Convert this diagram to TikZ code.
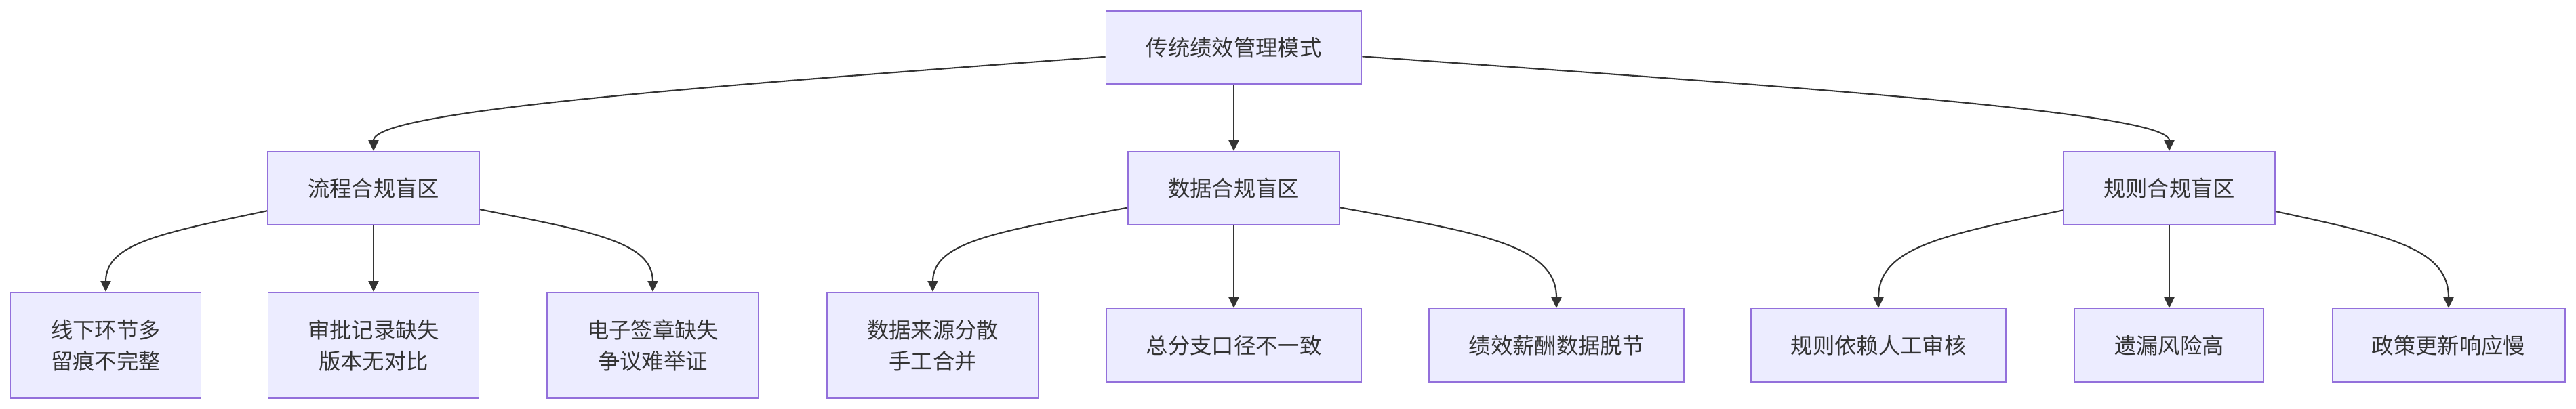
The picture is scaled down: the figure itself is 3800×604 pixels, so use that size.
\documentclass[tikz,border=0pt]{standalone}
\usepackage{fontspec}
\newfontfamily\cjk{Noto Sans CJK SC}
\usepackage{xcolor}
\usetikzlibrary{arrows.meta}
\definecolor{mmfill}{HTML}{ECECFF}
\definecolor{mmborder}{HTML}{9370DB}
\definecolor{mmline}{HTML}{333333}

\begin{document}
\begin{tikzpicture}[x=0.1mm,y=-0.1mm,>={Triangle[length=1.6mm,width=1.5mm]},
    font=\cjk\fontsize{9.2}{13.1}\selectfont,
    box/.style={draw=mmborder,fill=mmfill,line width=0.55pt,text=mmline,inner sep=0pt,minimum height=10.8mm,align=center},
    tall/.style={box,minimum height=15.6mm},
    edge/.style={->,draw=mmline,line width=0.6pt}]
    \fill[white] (0,0) rectangle (3800,604);
    \useasboundingbox (0,0) rectangle (3800,604);
    \node[box,minimum width=37.7mm] (trad) at (1820,70) {传统绩效管理模式};

    % three blind zones
    \node[box,minimum width=31.2mm] (flow) at (551,278) {流程合规盲区};
    \node[box,minimum width=31.2mm] (data) at (1820,278) {数据合规盲区};
    \node[box,minimum width=31.2mm] (rule) at (3200,278) {规则合规盲区};
    \draw[edge] (trad) .. controls (1000,130) and (551,165) .. (flow.north);
    \draw[edge] (trad) -- (data.north);
    \draw[edge] (trad) .. controls (2640,128) and (3200,165) .. (rule.north);

    % process
    \node[tall,minimum width=28.1mm] (offline) at (156,510) {线下环节多\\留痕不完整};
    \node[tall,minimum width=31.1mm] (approve) at (551,510) {审批记录缺失\\版本无对比};
    \node[tall,minimum width=31.2mm] (esign) at (963,510) {电子签章缺失\\争议难举证};
    \draw[edge] (flow) .. controls (240,344) and (156,359) .. (offline.north);
    \draw[edge] (flow) -- (approve.north);
    \draw[edge] (flow) .. controls (873,342) and (963,357) .. (esign.north);

    % data
    \node[tall,minimum width=31.2mm] (source) at (1376,510) {数据来源分散\\手工合并};
    \node[box,minimum width=37.6mm] (caliber) at (1820,510) {总分支口径不一致};
    \node[box,minimum width=37.6mm] (paylink) at (2296,510) {绩效薪酬数据脱节};
    \draw[edge] (data) .. controls (1476,341) and (1376,356) .. (source.north);
    \draw[edge] (data) -- (caliber.north);
    \draw[edge] (data) .. controls (2184,344) and (2296,362) .. (paylink.north);

    % rules
    \node[box,minimum width=37.6mm] (manual) at (2771,510) {规则依赖人工审核};
    \node[box,minimum width=27.9mm] (miss) at (3200,510) {遗漏风险高};
    \node[box,minimum width=34.3mm] (policy) at (3612,510) {政策更新响应慢};
    \draw[edge] (rule) .. controls (2867,347) and (2771,365) .. (manual.north);
    \draw[edge] (rule) -- (miss.north);
    \draw[edge] (rule) .. controls (3522,348) and (3612,366) .. (policy.north);
\end{tikzpicture}
\end{document}
